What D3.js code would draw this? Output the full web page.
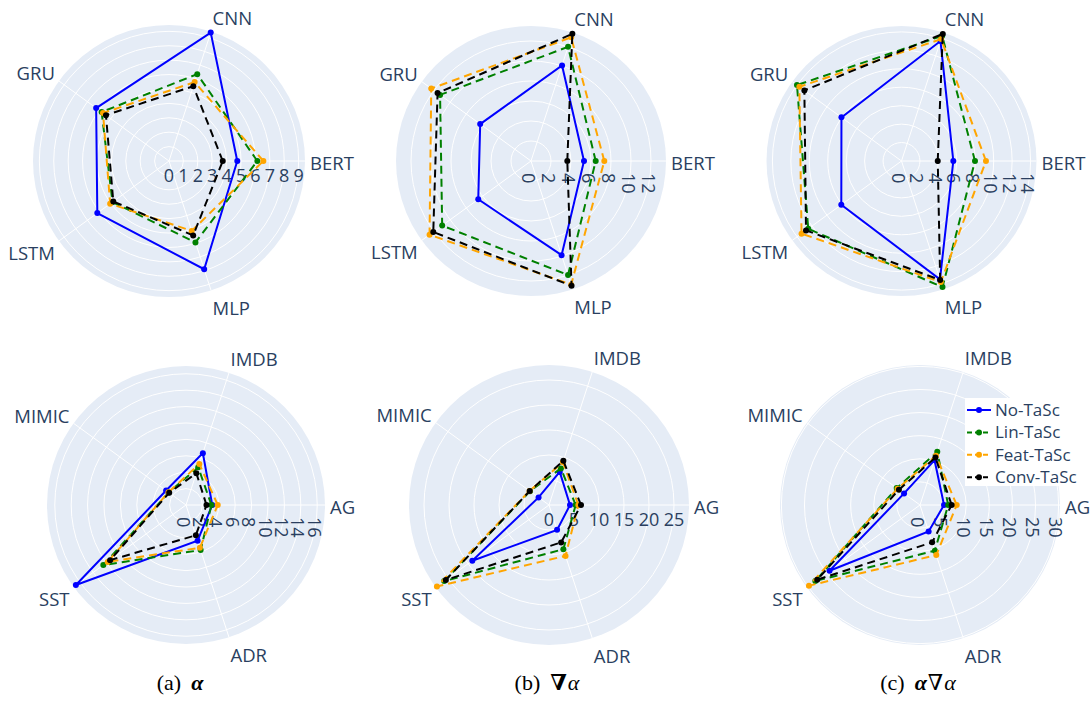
<!DOCTYPE html>
<html><head><meta charset="utf-8">
<script src="https://cdn.jsdelivr.net/npm/d3@7"></script>
<style>body{margin:0;background:#fff}</style>
</head><body>
<svg id="chart" width="1092" height="702"></svg>
<script>
const modelCategories = ["BERT", "CNN", "GRU", "LSTM", "MLP"];
const datasetCategories = ["AG", "IMDB", "MIMIC", "SST", "ADR"];
const seriesNames = ["No-TaSc", "Lin-TaSc", "Feat-TaSc", "Conv-TaSc"];

// rows follow seriesNames, columns follow the categories
const alphaModels = [
  [4.74, 9.37, 6.25, 6.15, 7.9],
  [6.13, 6.34, 5.78, 4.85, 5.94],
  [6.55, 5.76, 5.66, 5.05, 5.1],
  [3.73, 5.46, 5.41, 4.78, 5.43]
];
const gradModels = [
  [5.3, 10.05, 6.28, 6.52, 9.9],
  [6.47, 12.0, 11.24, 10.98, 11.99],
  [7.33, 13.0, 12.33, 12.54, 13.0],
  [3.63, 13.38, 11.55, 12.08, 13.12]
];
const alphaGradModels = [
  [5.62, 13.68, 8.05, 8.07, 13.5],
  [7.97, 14.27, 14.01, 12.5, 14.38],
  [9.16, 13.9, 13.69, 13.4, 13.8],
  [3.93, 14.49, 13.02, 12.8, 13.57]
];
const alphaDatasets = [
  [3.2, 6.65, 3.0, 16.6, 4.58],
  [3.1, 4.83, 2.6, 12.46, 5.78],
  [3.87, 5.26, 2.65, 11.8, 5.48],
  [2.5, 4.08, 2.53, 11.44, 3.89]
];
const gradDatasets = [
  [4.2, 6.96, 2.58, 18.96, 5.23],
  [5.33, 7.7, 4.7, 25.9, 9.3],
  [5.87, 9.0, 4.8, 27.7, 10.7],
  [6.4, 9.3, 4.77, 25.5, 7.86]
];
const alphaGradDatasets = [
  [5.2, 10.2, 4.26, 24.2, 6.03],
  [6.1, 12.1, 6.23, 28.0, 10.4],
  [7.94, 11.2, 6.0, 29.7, 11.4],
  [6.85, 10.8, 5.64, 27.5, 8.5]
];

const ticksAlphaModels = [0, 1, 2, 3, 4, 5, 6, 7, 8, 9];
const ticksGradModels = [0, 2, 4, 6, 8, 10, 12];
const ticksAlphaGradModels = [0, 2, 4, 6, 8, 10, 12, 14];
const ticksAlphaDatasets = [0, 2, 4, 6, 8, 10, 12, 14, 16];
const ticksGradDatasets = [0, 5, 10, 15, 20, 25];
const ticksAlphaGradDatasets = [0, 5, 10, 15, 20, 25, 30];

const seriesColors = ["#0000ff", "#008000", "#ffa500", "#000000"];
const seriesDash = [null, "8,5", "8,5", "8,5"];
const textColor = "#2a3f5f";
const bgColor = "#e5ecf6";

const panels = [
  {cats: modelCategories, values: alphaModels, ticks: ticksAlphaModels, max: 9.44, cx: 169, cy: 161, R: 136, rot: false},
  {cats: modelCategories, values: gradModels, ticks: ticksGradModels, max: 13.5, cx: 531, cy: 161, R: 135, rot: true},
  {cats: modelCategories, values: alphaGradModels, ticks: ticksAlphaGradModels, max: 14.64, cx: 901.5, cy: 161, R: 135, rot: true},
  {cats: datasetCategories, values: alphaDatasets, ticks: ticksAlphaDatasets, max: 16.95, cx: 186, cy: 505, R: 139, rot: true},
  {cats: datasetCategories, values: gradDatasets, ticks: ticksGradDatasets, max: 28, cx: 549, cy: 505, R: 140, rot: false},
  {cats: datasetCategories, values: alphaGradDatasets, ticks: ticksAlphaGradDatasets, max: 30.3, cx: 920, cy: 505, R: 140, rot: true}
];

const svg = d3.select("#chart");
const font = "'Open Sans', 'Noto Sans', sans-serif";

panels.forEach(p => {
  const g = svg.append("g").attr("transform", `translate(${p.cx},${p.cy})`);
  const angle = d3.scalePoint().domain(p.cats).range([0, 2 * Math.PI * (p.cats.length - 1) / p.cats.length]);
  const r = d3.scaleLinear().domain([0, p.max]).range([0, p.R]);

  g.append("circle").attr("r", p.R).attr("fill", bgColor);
  g.selectAll("circle.grid").data(p.ticks.filter(t => t > 0)).join("circle")
    .attr("class", "grid").attr("r", d => r(d)).attr("fill", "none")
    .attr("stroke", "#fff").attr("stroke-width", 1);
  g.selectAll("line.spoke").data(p.cats).join("line")
    .attr("class", "spoke")
    .attr("x1", 0).attr("y1", 0)
    .attr("x2", d => p.R * Math.cos(angle(d)))
    .attr("y2", d => -p.R * Math.sin(angle(d)))
    .attr("stroke", "#fff").attr("stroke-width", 1);

  // category labels
  g.selectAll("text.cat").data(p.cats).join("text")
    .attr("class", "cat")
    .attr("x", d => (p.R + 5) * Math.cos(angle(d)))
    .attr("y", d => -(p.R + 5) * Math.sin(angle(d)) + 2.5 - 11.5 * Math.sin(angle(d)) + 6.6)
    .attr("text-anchor", d => {
      const c = Math.cos(angle(d));
      return Math.abs(c) < 0.1 ? "middle" : (c > 0 ? "start" : "end");
    })
    .attr("font-family", font).attr("font-size", 18.5).attr("fill", textColor)
    .text(d => d);

  // radial tick labels
  const tl = g.selectAll("text.tick").data(p.ticks).join("text")
    .attr("class", "tick")
    .attr("font-family", font).attr("font-size", 18).attr("fill", textColor)
    .text(d => d);
  if (p.rot) {
    tl.attr("text-anchor", "start")
      .attr("transform", d => `translate(${r(d) - 9.5},12) rotate(90)`);
  } else {
    tl.attr("text-anchor", "middle").attr("x", d => r(d)).attr("y", 20.5);
  }

  // series
  const line = d3.lineRadial()
    .angle((v, i) => Math.PI / 2 - angle(p.cats[i]))
    .radius(v => r(v))
    .curve(d3.curveLinearClosed);
  p.values.forEach((vals, si) => {
    const sg = g.append("g");
    sg.append("path").attr("d", line(vals))
      .attr("fill", "none").attr("stroke", seriesColors[si]).attr("stroke-width", 2)
      .attr("stroke-dasharray", seriesDash[si]);
    sg.selectAll("circle").data(vals).join("circle")
      .attr("cx", (v, i) => r(v) * Math.cos(angle(p.cats[i])))
      .attr("cy", (v, i) => -r(v) * Math.sin(angle(p.cats[i])))
      .attr("r", 3).attr("fill", seriesColors[si]);
  });
});

// legend
const lg = svg.append("g").attr("transform", "translate(965,398)");
lg.append("rect").attr("width", 122).attr("height", 88).attr("fill", "#fff");
seriesNames.forEach((name, i) => {
  const y = 12 + i * 22.4;
  lg.append("line").attr("x1", 2).attr("x2", 26).attr("y1", y).attr("y2", y)
    .attr("stroke", seriesColors[i]).attr("stroke-width", 2)
    .attr("stroke-dasharray", seriesDash[i] ? "5,3" : null);
  lg.append("circle").attr("cx", 14).attr("cy", y).attr("r", 3).attr("fill", seriesColors[i]);
  lg.append("text").attr("x", 30).attr("y", y + 6)
    .attr("font-family", font).attr("font-size", 17).attr("fill", textColor).text(name);
});

// captions
const capFont = "'Liberation Serif', 'Times New Roman', 'DejaVu Serif', serif";
const captions = [
  {x: 180, parts: [["(a)", "normal", "normal", 0], ["α", "bold", "italic", 10]]},
  {x: 547, parts: [["(b)", "normal", "normal", 0], ["∇", "bold", "normal", 10], ["α", "normal", "italic", 1]]},
  {x: 918, parts: [["(c)", "normal", "normal", 0], ["α", "bold", "italic", 10], ["∇", "normal", "normal", 1], ["α", "normal", "italic", 1]]}
];
captions.forEach(c => {
  const t = svg.append("text").attr("x", c.x).attr("y", 690).attr("text-anchor", "middle")
    .attr("font-family", capFont).attr("font-size", 22).attr("fill", "#000");
  c.parts.forEach(pt => t.append("tspan").attr("font-weight", pt[1]).attr("font-style", pt[2]).attr("dx", pt[3]).text(pt[0]));
});
</script>
</body></html>
